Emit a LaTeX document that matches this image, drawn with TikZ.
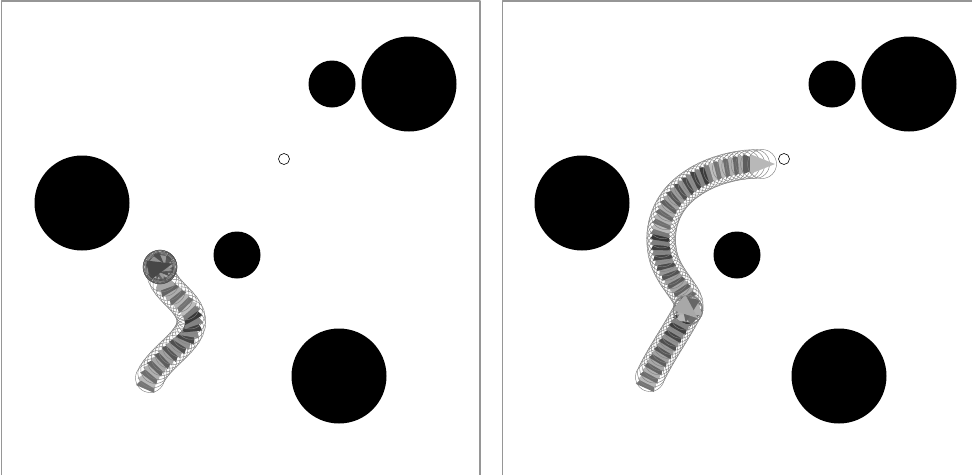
\documentclass[tikz,border=0pt]{standalone}
\usetikzlibrary{decorations.markings}

% one pose of the robot: a shaded wedge and its footprint
\newcommand\robotpose[1]{%
  \pgfmathtruncatemacro\shade{mod(#1*29,55)+25}%
  \fill[black!\shade] (13,0) -- (-12,10) -- (-12,-10) -- cycle;
  \draw[footprint] (0,0) circle (14.5);}

\begin{document}
\begin{tikzpicture}[x=1pt,y=-1pt,line join=round,
  obstacle/.style={fill=black},
  goal/.style={draw=black,fill=white,line width=0.6pt},
  frame/.style={draw=framegray,line width=1.4pt},
  footprint/.style={draw=trailgray,line width=0.45pt},
  trail/.style={decorate,decoration={markings,
    mark=between positions 0 and 0.99 step #1 with
      {\robotpose{\pgfkeysvalueof{/pgf/decoration/mark info/sequence number}}}}}]
\definecolor{framegray}{RGB}{150,150,150}
\definecolor{trailgray}{RGB}{130,130,130}

\useasboundingbox (0,0) rectangle (972,475);

% The two panels.
\draw[frame] (1.5,475) -- (1.5,1) -- (480,1) -- (480,475);
\draw[frame] (502.5,475) -- (502.5,1) -- (972,1);

% Obstacles and goal, the same in both panels.
\foreach \px in {0,500} {
  \begin{scope}[xshift=\px]
    \fill[obstacle] (409,84) circle (47.5);
    \fill[obstacle] (332,84) circle (23.5);
    \fill[obstacle] (82,203) circle (47.5);
    \fill[obstacle] (237,255) circle (23.5);
    \fill[obstacle] (339,376) circle (47.5);
    \draw[goal] (284,159) circle (5.5);
  \end{scope}}

\coordinate (spinL) at (160,267);
\coordinate (spinR) at (688,310);
\coordinate (endR) at (762,164);

% Left run: the robot gets stuck and turns on the spot.
\path[trail=0.04] (150,378) .. controls (160,355) and (195,340) .. (191,318)
  .. controls (188,300) and (163,290) .. (161,272);
\foreach \a [count=\i] in {15,45,...,375} {
  \begin{scope}[shift={(spinL)},rotate=\a,trailgray!60!black]
    \robotpose{\i}
    \draw[footprint,draw=trailgray!60!black] (2.5,0) circle (14.5);
  \end{scope}}

% Right run: the robot reaches the goal.
\path[trail=0.016] (650,377) .. controls (660,355) and (678,330) .. (spinR)
  .. controls (694,295) and (666,280) .. (662,250)
  .. controls (658,225) and (668,200) .. (690,185)
  .. controls (710,170) and (740,163) .. (endR);
\foreach \a [count=\i] in {20,80,...,320} {
  \begin{scope}[shift={(spinR)},rotate=\a]
    \robotpose{\i}
  \end{scope}}
\begin{scope}[shift={(endR)}]
  \robotpose{2}
\end{scope}
\end{tikzpicture}
\end{document}
